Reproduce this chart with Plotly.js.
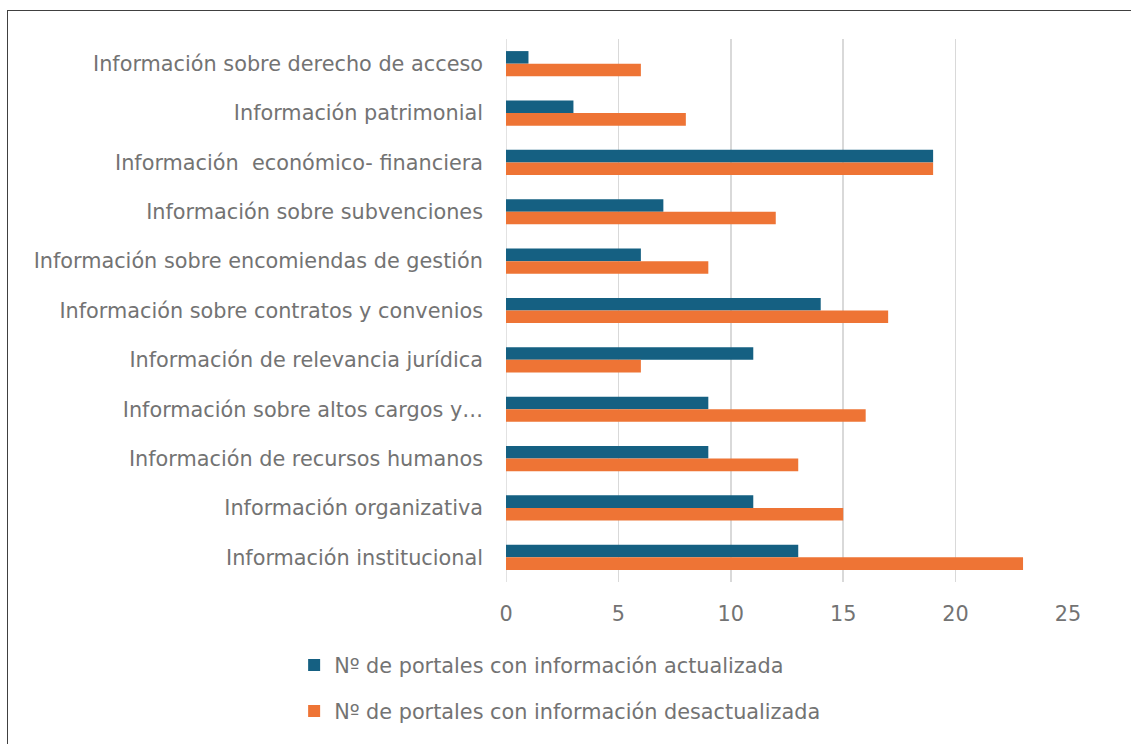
<!DOCTYPE html>
<html>
<head>
<meta charset="utf-8">
<script src="https://cdn.plot.ly/plotly-3.0.1.min.js"></script>
<style>
  html, body { margin: 0; padding: 0; background: #ffffff; }
  #wrap { position: relative; width: 1131px; height: 744px; overflow: hidden; }
  #chart { position: absolute; left: 0; top: 0; width: 1131px; height: 744px; }
  #frame { position: absolute; left: 7px; top: 10px; width: 1200px; height: 800px;
           border-left: 1.5px solid #404040; border-top: 1.5px solid #404040; pointer-events: none; }
</style>
</head>
<body>
<div id="wrap">
  <div id="chart"></div>
  <div id="frame"></div>
</div>
<script>
// Categories listed top to bottom
const categories = [
  "Información sobre derecho de acceso",
  "Información patrimonial",
  "Información\u00a0 económico- financiera",
  "Información sobre subvenciones",
  "Información sobre encomiendas de gestión",
  "Información sobre contratos y convenios",
  "Información de relevancia jurídica",
  "Información sobre altos cargos y…",
  "Información de recursos humanos",
  "Información organizativa",
  "Información institucional"
];
const actualizada =    [1, 3, 19, 7, 6, 14, 11, 9, 9, 11, 13];
const desactualizada = [6, 8, 19, 12, 9, 17, 6, 16, 13, 15, 23];
const seriesNames = [
  "Nº de portales con información actualizada",
  "Nº de portales con información desactualizada"
];
const xTicks = [0, 5, 10, 15, 20, 25];

const FONT = "DejaVu Sans, Noto Sans, sans-serif";
const GREY = "#737373";
const FS = 20.8;

const traces = [
  {
    type: "bar", orientation: "h",
    y: categories, x: actualizada, name: seriesNames[0],
    marker: { color: "#156082" }, legendgroup: "a",
    hoverinfo: "x+y"
  },
  {
    type: "bar", orientation: "h",
    y: categories, x: desactualizada, name: seriesNames[1],
    marker: { color: "#EE7435" }, legendgroup: "b",
    hoverinfo: "x+y"
  }
];

const layout = {
  width: 1131, height: 744,
  paper_bgcolor: "#ffffff", plot_bgcolor: "#ffffff",
  margin: { l: 506, r: 63, t: 39, b: 162, autoexpand: false },
  barmode: "group",
  bargap: 0.49, bargroupgap: 0,
  font: { family: FONT, color: GREY, size: FS },
  xaxis: {
    range: [0, 25],
    tickvals: xTicks,
    ticktext: xTicks.map(String),
    showgrid: true, gridcolor: "#d9d9d9", gridwidth: 1.5,
    zeroline: false, showline: false, ticks: "",
    ticklabelstandoff: 17,
    tickfont: { family: FONT, color: GREY, size: FS },
    fixedrange: true
  },
  yaxis: {
    type: "category",
    autorange: "reversed",
    showgrid: false, zeroline: false, showline: false, ticks: "",
    ticklabelstandoff: 22,
    tickfont: { family: FONT, color: GREY, size: FS },
    fixedrange: true
  },
  showlegend: true,
  legend: {
    orientation: "v",
    x: -0.377, xanchor: "left",
    y: -0.116, yanchor: "top",
    traceorder: "grouped",
    tracegroupgap: 16,
    itemwidth: 30,
    font: { family: FONT, color: GREY, size: FS },
    bgcolor: "rgba(0,0,0,0)"
  },
  shapes: [
    { type: "line", xref: "x", yref: "paper", x0: 0, x1: 0, y0: 0, y1: 1,
      line: { color: "#d9d9d9", width: 1.5 }, layer: "below" }
  ]
};

Plotly.newPlot("chart", traces, layout, { displayModeBar: false, staticPlot: true });
</script>
</body>
</html>
